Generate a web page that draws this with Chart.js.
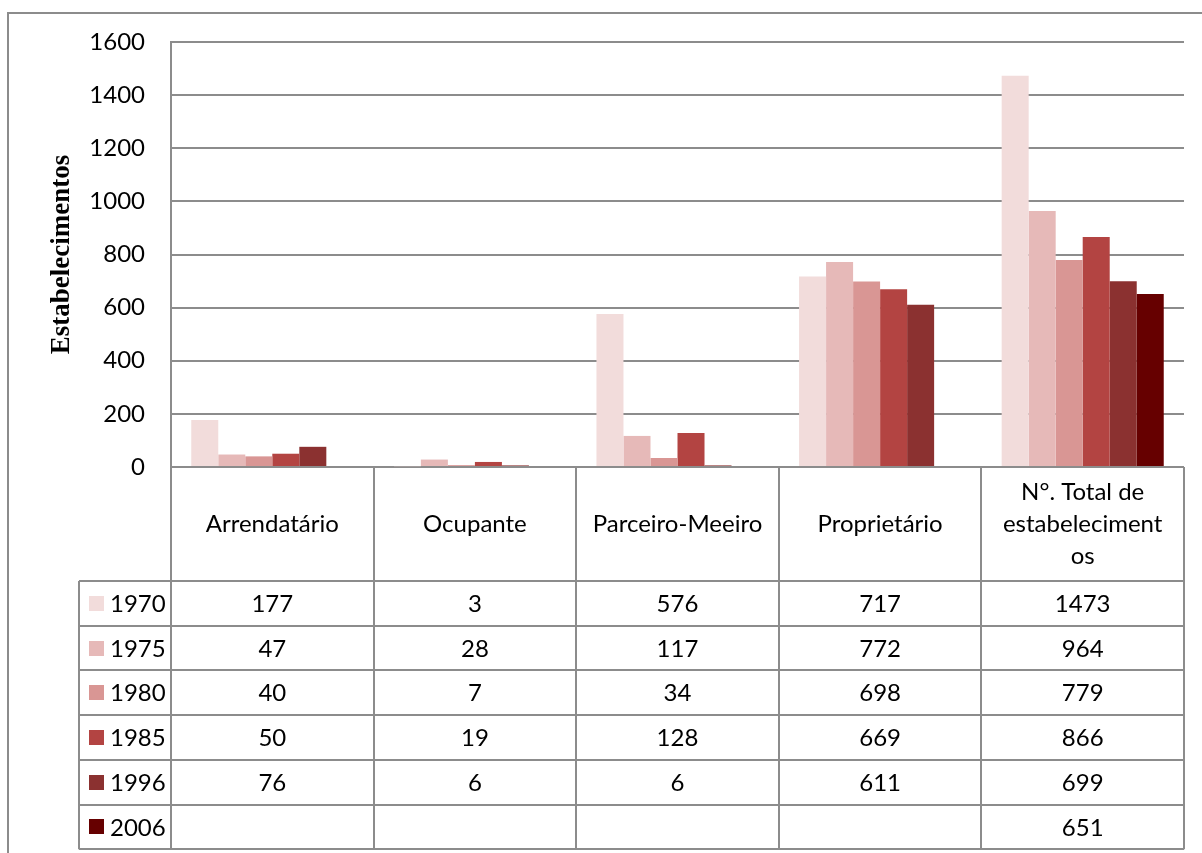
<!DOCTYPE html>
<html>
<head>
<meta charset="utf-8">
<script src="https://cdn.jsdelivr.net/npm/chart.js@4/dist/chart.umd.min.js"></script>
<style>
  body { margin: 0; background: #fff; }
  canvas { display: block; }
</style>
</head>
<body>
<canvas id="chart" width="1202" height="853"></canvas>
<script>
// categorias (linhas do cabeçalho da tabela)
const categories = ['Arrendatário', 'Ocupante', 'Parceiro-Meeiro', 'Proprietário', 'N°. Total de estabelecimentos'];
const categoryLines = [['Arrendatário'], ['Ocupante'], ['Parceiro-Meeiro'], ['Proprietário'], ['N°. Total de', 'estabeleciment', 'os']];
const years = ['1970', '1975', '1980', '1985', '1996', '2006'];

const v1970 = [177, 3, 576, 717, 1473];
const v1975 = [47, 28, 117, 772, 964];
const v1980 = [40, 7, 34, 698, 779];
const v1985 = [50, 19, 128, 669, 866];
const v1996 = [76, 6, 6, 611, 699];
const v2006 = [null, null, null, null, 651];
const series = [v1970, v1975, v1980, v1985, v1996, v2006];
const colors = ['#f2dcdb', '#e6b9b8', '#d99694', '#b34442', '#8b3130', '#660000'];

const yTicks = [0, 200, 400, 600, 800, 1000, 1200, 1400, 1600];

const FONT = 'Lato, "Liberation Sans", sans-serif';
const FSIZE = 24;
const LINE = '#8c8c8c';

const tablePlugin = {
    id: 'dataTable',
    afterDraw(chart) {
        const c = chart.ctx;
        const x = chart.scales.x;
        const area = chart.chartArea;
        const colW = (area.right - area.left) / categories.length;
        const top = area.bottom;
        const headBottom = 581;
        const rowH = 44.7;
        const tableBottom = headBottom + rowH * years.length;
        const keyLeft = 79;

        c.save();
        c.strokeStyle = LINE;
        c.lineWidth = 2;
        // moldura externa
        c.beginPath();
        c.moveTo(8, 853); c.lineTo(8, 13); c.lineTo(1202, 13);
        c.stroke();

        // linhas verticais das categorias e linhas da tabela
        c.beginPath();
        for (let i = 0; i <= categories.length; i++) {
            const px = Math.round(area.left + i * colW);
            c.moveTo(px, top); c.lineTo(px, tableBottom);
        }
        c.moveTo(keyLeft, headBottom); c.lineTo(keyLeft, tableBottom);
        for (let r = 0; r <= years.length; r++) {
            const py = Math.round(headBottom + r * rowH);
            c.moveTo(keyLeft, py); c.lineTo(area.right, py);
        }
        c.stroke();

        c.fillStyle = '#000';
        c.font = FSIZE + 'px ' + FONT;
        c.textAlign = 'center';
        c.textBaseline = 'middle';
        // cabeçalho
        categoryLines.forEach((lines, i) => {
            const cx = x.getPixelForValue(i);
            const mid = (top + headBottom) / 2;
            const lh = 32;
            lines.forEach((t, k) => {
                c.fillText(t, cx, mid + (k - (lines.length - 1) / 2) * lh);
            });
        });
        // linhas de dados
        years.forEach((yr, r) => {
            const cy = headBottom + rowH * (r + 0.5);
            c.fillStyle = colors[r];
            c.fillRect(89, Math.round(cy - 7.5), 15, 15);
            c.fillStyle = '#000';
            c.textAlign = 'left';
            c.fillText(yr, 110, cy + 1);
            c.textAlign = 'center';
            series[r].forEach((v, i) => {
                if (v !== null) c.fillText(String(v), x.getPixelForValue(i), cy + 1);
            });
        });
        c.restore();
    }
};

new Chart(document.getElementById('chart'), {
    type: 'bar',
    data: {
        labels: categories,
        datasets: years.map((yr, i) => ({
            label: yr,
            data: series[i],
            backgroundColor: colors[i],
            borderWidth: 0,
            categoryPercentage: 0.8,
            barPercentage: 1
        }))
    },
    options: {
        responsive: false,
        devicePixelRatio: 1,
        animation: false,
        layout: { padding: { top: 42, right: 18, bottom: 386, left: 0 } },
        plugins: { legend: { display: false }, tooltip: { enabled: false } },
        scales: {
            x: { display: false },
            y: {
                min: 0,
                max: 1600,
                afterFit(scale) { scale.width = 171; },
                afterBuildTicks(scale) { scale.ticks = yTicks.map(v => ({ value: v })); },
                ticks: {
                    color: '#000',
                    font: { family: FONT, size: FSIZE },
                    padding: 26,
                    callback: v => String(v)
                },
                grid: { color: LINE, lineWidth: 2, drawTicks: false },
                border: { display: true, color: LINE, width: 2 },
                title: {
                    display: true,
                    text: 'Estabelecimentos',
                    color: '#000',
                    font: { family: '"Liberation Serif", "Times New Roman", serif', size: 27, weight: 'bold' },
                    padding: { top: 46, bottom: 0 }
                }
            }
        }
    },
    plugins: [tablePlugin]
});
</script>
</body>
</html>
